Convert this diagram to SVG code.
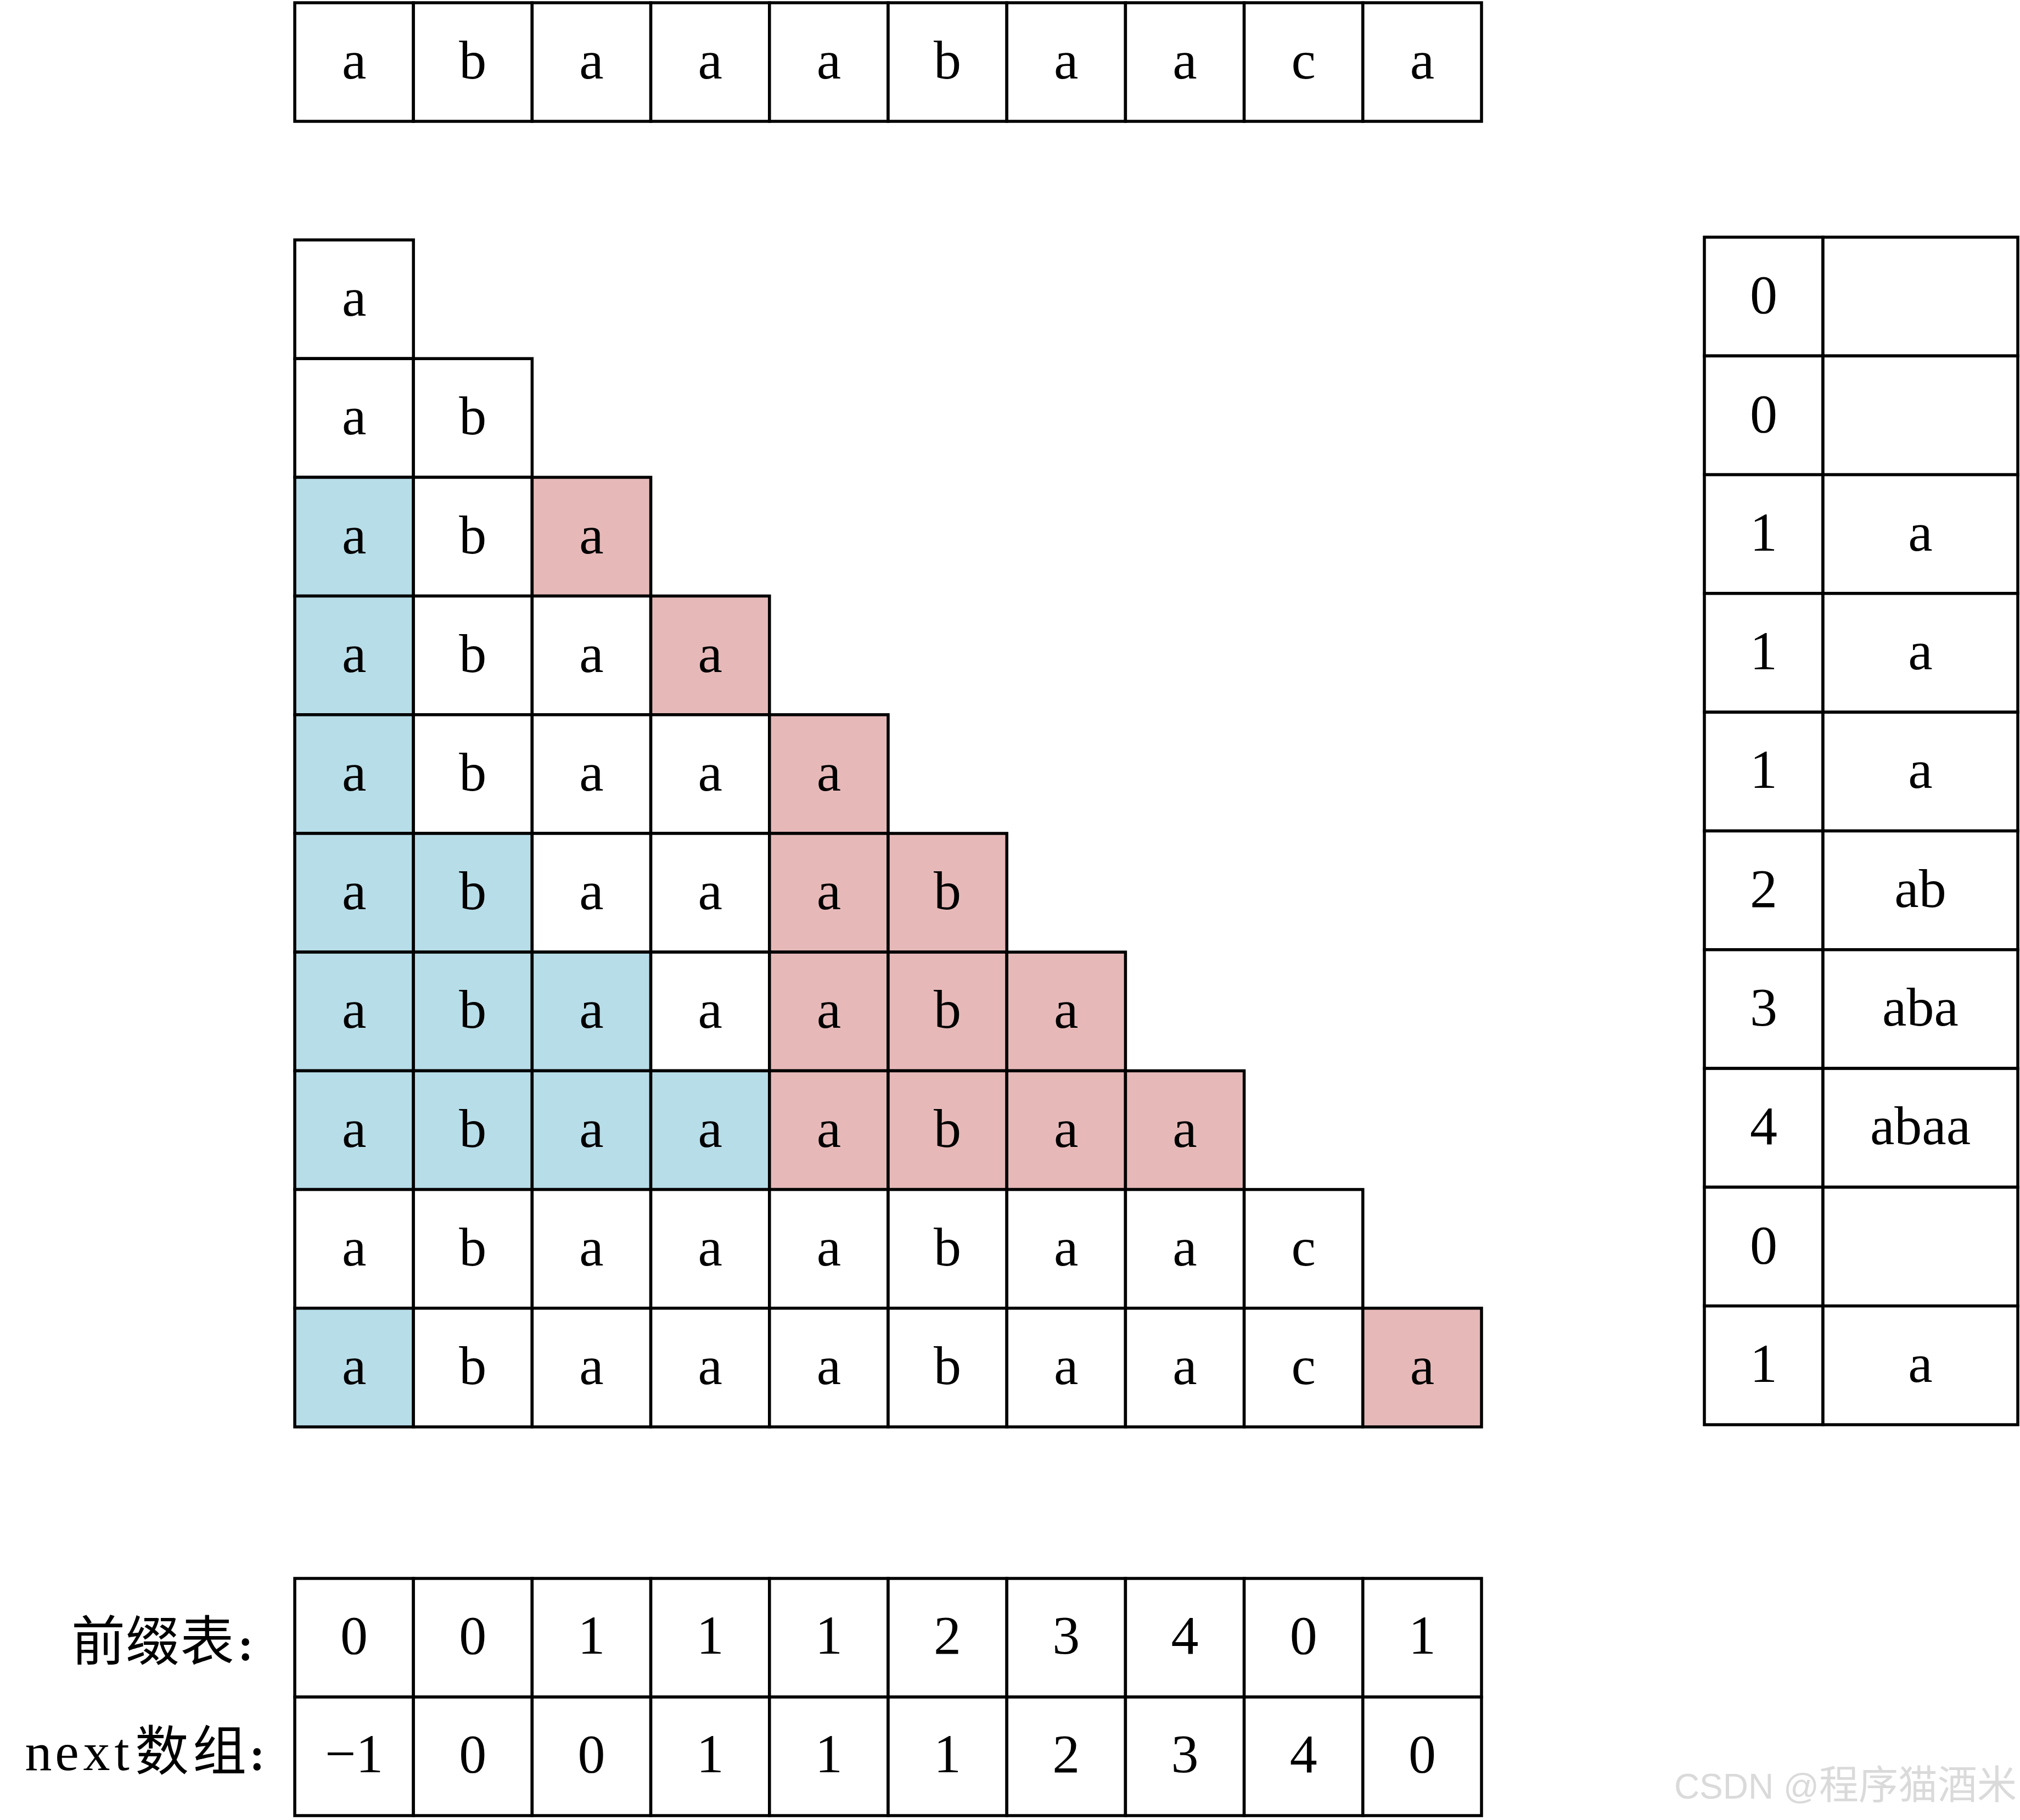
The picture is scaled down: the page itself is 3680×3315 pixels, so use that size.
<svg xmlns="http://www.w3.org/2000/svg" width="3680" height="3315" viewBox="0 0 3680 3315">
<style>
.c{fill:#ffffff;stroke:#000000;stroke-width:5.5;stroke-linejoin:miter}
.b{fill:#b7dde8}
.p{fill:#e6b9b8}
.t{font-family:"Liberation Serif","Times New Roman",serif;font-size:100px;text-anchor:middle;fill:#000000}
.lab{font-family:"Liberation Serif","Noto Sans CJK SC",serif;font-size:98px;text-anchor:middle;fill:#000000}
.col{font-family:"Liberation Serif",serif;font-weight:bold;font-size:84px;text-anchor:middle;fill:#000000}
.wm{font-family:"Liberation Sans","Noto Sans CJK SC",sans-serif;font-size:72px;fill:#dadada;text-anchor:end}
</style>
<rect width="3680" height="3315" fill="#ffffff"/>

<!-- top string row -->
<g id="top-row">
<g id="top-0"><rect class="c" x="537" y="5" width="216.2" height="216"/><text class="t" x="645.1" y="143">a</text></g>
<g id="top-1"><rect class="c" x="753.2" y="5" width="216.2" height="216"/><text class="t" x="861.3" y="143">b</text></g>
<g id="top-2"><rect class="c" x="969.4" y="5" width="216.2" height="216"/><text class="t" x="1077.5" y="143">a</text></g>
<g id="top-3"><rect class="c" x="1185.6" y="5" width="216.2" height="216"/><text class="t" x="1293.7" y="143">a</text></g>
<g id="top-4"><rect class="c" x="1401.8" y="5" width="216.2" height="216"/><text class="t" x="1509.9" y="143">a</text></g>
<g id="top-5"><rect class="c" x="1618" y="5" width="216.2" height="216"/><text class="t" x="1726.1" y="143">b</text></g>
<g id="top-6"><rect class="c" x="1834.2" y="5" width="216.2" height="216"/><text class="t" x="1942.3" y="143">a</text></g>
<g id="top-7"><rect class="c" x="2050.4" y="5" width="216.2" height="216"/><text class="t" x="2158.5" y="143">a</text></g>
<g id="top-8"><rect class="c" x="2266.6" y="5" width="216.2" height="216"/><text class="t" x="2374.7" y="143">c</text></g>
<g id="top-9"><rect class="c" x="2482.8" y="5" width="216.2" height="216"/><text class="t" x="2590.9" y="143">a</text></g>
</g>

<!-- triangle -->
<g id="triangle">
<g id="r0-0"><rect class="c" x="537" y="437" width="216.2" height="216.2"/><text class="t" x="645.1" y="575.1">a</text></g>

<g id="r1-0"><rect class="c" x="537" y="653.2" width="216.2" height="216.2"/><text class="t" x="645.1" y="791.3">a</text></g>
<g id="r1-1"><rect class="c" x="753.2" y="653.2" width="216.2" height="216.2"/><text class="t" x="861.3" y="791.3">b</text></g>

<g id="r2-0"><rect class="c b" x="537" y="869.4" width="216.2" height="216.2"/><text class="t" x="645.1" y="1007.5">a</text></g>
<g id="r2-1"><rect class="c" x="753.2" y="869.4" width="216.2" height="216.2"/><text class="t" x="861.3" y="1007.5">b</text></g>
<g id="r2-2"><rect class="c p" x="969.4" y="869.4" width="216.2" height="216.2"/><text class="t" x="1077.5" y="1007.5">a</text></g>

<g id="r3-0"><rect class="c b" x="537" y="1085.6" width="216.2" height="216.2"/><text class="t" x="645.1" y="1223.7">a</text></g>
<g id="r3-1"><rect class="c" x="753.2" y="1085.6" width="216.2" height="216.2"/><text class="t" x="861.3" y="1223.7">b</text></g>
<g id="r3-2"><rect class="c" x="969.4" y="1085.6" width="216.2" height="216.2"/><text class="t" x="1077.5" y="1223.7">a</text></g>
<g id="r3-3"><rect class="c p" x="1185.6" y="1085.6" width="216.2" height="216.2"/><text class="t" x="1293.7" y="1223.7">a</text></g>

<g id="r4-0"><rect class="c b" x="537" y="1301.8" width="216.2" height="216.2"/><text class="t" x="645.1" y="1439.9">a</text></g>
<g id="r4-1"><rect class="c" x="753.2" y="1301.8" width="216.2" height="216.2"/><text class="t" x="861.3" y="1439.9">b</text></g>
<g id="r4-2"><rect class="c" x="969.4" y="1301.8" width="216.2" height="216.2"/><text class="t" x="1077.5" y="1439.9">a</text></g>
<g id="r4-3"><rect class="c" x="1185.6" y="1301.8" width="216.2" height="216.2"/><text class="t" x="1293.7" y="1439.9">a</text></g>
<g id="r4-4"><rect class="c p" x="1401.8" y="1301.8" width="216.2" height="216.2"/><text class="t" x="1509.9" y="1439.9">a</text></g>

<g id="r5-0"><rect class="c b" x="537" y="1518" width="216.2" height="216.2"/><text class="t" x="645.1" y="1656.1">a</text></g>
<g id="r5-1"><rect class="c b" x="753.2" y="1518" width="216.2" height="216.2"/><text class="t" x="861.3" y="1656.1">b</text></g>
<g id="r5-2"><rect class="c" x="969.4" y="1518" width="216.2" height="216.2"/><text class="t" x="1077.5" y="1656.1">a</text></g>
<g id="r5-3"><rect class="c" x="1185.6" y="1518" width="216.2" height="216.2"/><text class="t" x="1293.7" y="1656.1">a</text></g>
<g id="r5-4"><rect class="c p" x="1401.8" y="1518" width="216.2" height="216.2"/><text class="t" x="1509.9" y="1656.1">a</text></g>
<g id="r5-5"><rect class="c p" x="1618" y="1518" width="216.2" height="216.2"/><text class="t" x="1726.1" y="1656.1">b</text></g>

<g id="r6-0"><rect class="c b" x="537" y="1734.2" width="216.2" height="216.2"/><text class="t" x="645.1" y="1872.3">a</text></g>
<g id="r6-1"><rect class="c b" x="753.2" y="1734.2" width="216.2" height="216.2"/><text class="t" x="861.3" y="1872.3">b</text></g>
<g id="r6-2"><rect class="c b" x="969.4" y="1734.2" width="216.2" height="216.2"/><text class="t" x="1077.5" y="1872.3">a</text></g>
<g id="r6-3"><rect class="c" x="1185.6" y="1734.2" width="216.2" height="216.2"/><text class="t" x="1293.7" y="1872.3">a</text></g>
<g id="r6-4"><rect class="c p" x="1401.8" y="1734.2" width="216.2" height="216.2"/><text class="t" x="1509.9" y="1872.3">a</text></g>
<g id="r6-5"><rect class="c p" x="1618" y="1734.2" width="216.2" height="216.2"/><text class="t" x="1726.1" y="1872.3">b</text></g>
<g id="r6-6"><rect class="c p" x="1834.2" y="1734.2" width="216.2" height="216.2"/><text class="t" x="1942.3" y="1872.3">a</text></g>

<g id="r7-0"><rect class="c b" x="537" y="1950.4" width="216.2" height="216.2"/><text class="t" x="645.1" y="2088.5">a</text></g>
<g id="r7-1"><rect class="c b" x="753.2" y="1950.4" width="216.2" height="216.2"/><text class="t" x="861.3" y="2088.5">b</text></g>
<g id="r7-2"><rect class="c b" x="969.4" y="1950.4" width="216.2" height="216.2"/><text class="t" x="1077.5" y="2088.5">a</text></g>
<g id="r7-3"><rect class="c b" x="1185.6" y="1950.4" width="216.2" height="216.2"/><text class="t" x="1293.7" y="2088.5">a</text></g>
<g id="r7-4"><rect class="c p" x="1401.8" y="1950.4" width="216.2" height="216.2"/><text class="t" x="1509.9" y="2088.5">a</text></g>
<g id="r7-5"><rect class="c p" x="1618" y="1950.4" width="216.2" height="216.2"/><text class="t" x="1726.1" y="2088.5">b</text></g>
<g id="r7-6"><rect class="c p" x="1834.2" y="1950.4" width="216.2" height="216.2"/><text class="t" x="1942.3" y="2088.5">a</text></g>
<g id="r7-7"><rect class="c p" x="2050.4" y="1950.4" width="216.2" height="216.2"/><text class="t" x="2158.5" y="2088.5">a</text></g>

<g id="r8-0"><rect class="c" x="537" y="2166.6" width="216.2" height="216.2"/><text class="t" x="645.1" y="2304.7">a</text></g>
<g id="r8-1"><rect class="c" x="753.2" y="2166.6" width="216.2" height="216.2"/><text class="t" x="861.3" y="2304.7">b</text></g>
<g id="r8-2"><rect class="c" x="969.4" y="2166.6" width="216.2" height="216.2"/><text class="t" x="1077.5" y="2304.7">a</text></g>
<g id="r8-3"><rect class="c" x="1185.6" y="2166.6" width="216.2" height="216.2"/><text class="t" x="1293.7" y="2304.7">a</text></g>
<g id="r8-4"><rect class="c" x="1401.8" y="2166.6" width="216.2" height="216.2"/><text class="t" x="1509.9" y="2304.7">a</text></g>
<g id="r8-5"><rect class="c" x="1618" y="2166.6" width="216.2" height="216.2"/><text class="t" x="1726.1" y="2304.7">b</text></g>
<g id="r8-6"><rect class="c" x="1834.2" y="2166.6" width="216.2" height="216.2"/><text class="t" x="1942.3" y="2304.7">a</text></g>
<g id="r8-7"><rect class="c" x="2050.4" y="2166.6" width="216.2" height="216.2"/><text class="t" x="2158.5" y="2304.7">a</text></g>
<g id="r8-8"><rect class="c" x="2266.6" y="2166.6" width="216.2" height="216.2"/><text class="t" x="2374.7" y="2304.7">c</text></g>

<g id="r9-0"><rect class="c b" x="537" y="2382.8" width="216.2" height="216.2"/><text class="t" x="645.1" y="2520.9">a</text></g>
<g id="r9-1"><rect class="c" x="753.2" y="2382.8" width="216.2" height="216.2"/><text class="t" x="861.3" y="2520.9">b</text></g>
<g id="r9-2"><rect class="c" x="969.4" y="2382.8" width="216.2" height="216.2"/><text class="t" x="1077.5" y="2520.9">a</text></g>
<g id="r9-3"><rect class="c" x="1185.6" y="2382.8" width="216.2" height="216.2"/><text class="t" x="1293.7" y="2520.9">a</text></g>
<g id="r9-4"><rect class="c" x="1401.8" y="2382.8" width="216.2" height="216.2"/><text class="t" x="1509.9" y="2520.9">a</text></g>
<g id="r9-5"><rect class="c" x="1618" y="2382.8" width="216.2" height="216.2"/><text class="t" x="1726.1" y="2520.9">b</text></g>
<g id="r9-6"><rect class="c" x="1834.2" y="2382.8" width="216.2" height="216.2"/><text class="t" x="1942.3" y="2520.9">a</text></g>
<g id="r9-7"><rect class="c" x="2050.4" y="2382.8" width="216.2" height="216.2"/><text class="t" x="2158.5" y="2520.9">a</text></g>
<g id="r9-8"><rect class="c" x="2266.6" y="2382.8" width="216.2" height="216.2"/><text class="t" x="2374.7" y="2520.9">c</text></g>
<g id="r9-9"><rect class="c p" x="2482.8" y="2382.8" width="216.2" height="216.2"/><text class="t" x="2590.9" y="2520.9">a</text></g>
</g>

<!-- right table -->
<g id="prefix-table">
<g id="pt-0"><rect class="c" x="3105" y="432" width="216" height="216.3"/><rect class="c" x="3321" y="432" width="355" height="216.3"/><text class="t" x="3213" y="570.2">0</text></g>
<g id="pt-1"><rect class="c" x="3105" y="648.3" width="216" height="216.3"/><rect class="c" x="3321" y="648.3" width="355" height="216.3"/><text class="t" x="3213" y="786.5">0</text></g>
<g id="pt-2"><rect class="c" x="3105" y="864.6" width="216" height="216.3"/><rect class="c" x="3321" y="864.6" width="355" height="216.3"/><text class="t" x="3213" y="1002.8">1</text><text class="t" x="3498.5" y="1002.8">a</text></g>
<g id="pt-3"><rect class="c" x="3105" y="1080.9" width="216" height="216.3"/><rect class="c" x="3321" y="1080.9" width="355" height="216.3"/><text class="t" x="3213" y="1219.1">1</text><text class="t" x="3498.5" y="1219.1">a</text></g>
<g id="pt-4"><rect class="c" x="3105" y="1297.2" width="216" height="216.3"/><rect class="c" x="3321" y="1297.2" width="355" height="216.3"/><text class="t" x="3213" y="1435.4">1</text><text class="t" x="3498.5" y="1435.4">a</text></g>
<g id="pt-5"><rect class="c" x="3105" y="1513.5" width="216" height="216.3"/><rect class="c" x="3321" y="1513.5" width="355" height="216.3"/><text class="t" x="3213" y="1651.7">2</text><text class="t" x="3498.5" y="1651.7">ab</text></g>
<g id="pt-6"><rect class="c" x="3105" y="1729.8" width="216" height="216.3"/><rect class="c" x="3321" y="1729.8" width="355" height="216.3"/><text class="t" x="3213" y="1868">3</text><text class="t" x="3498.5" y="1868">aba</text></g>
<g id="pt-7"><rect class="c" x="3105" y="1946.1" width="216" height="216.3"/><rect class="c" x="3321" y="1946.1" width="355" height="216.3"/><text class="t" x="3213" y="2084.3">4</text><text class="t" x="3498.5" y="2084.3">abaa</text></g>
<g id="pt-8"><rect class="c" x="3105" y="2162.4" width="216" height="216.3"/><rect class="c" x="3321" y="2162.4" width="355" height="216.3"/><text class="t" x="3213" y="2300.6">0</text></g>
<g id="pt-9"><rect class="c" x="3105" y="2378.7" width="216" height="216.3"/><rect class="c" x="3321" y="2378.7" width="355" height="216.3"/><text class="t" x="3213" y="2516.9">1</text><text class="t" x="3498.5" y="2516.9">a</text></g>
</g>

<!-- labels -->
<g id="label-prefix"><text class="lab" x="179 278 377.5" y="3024">前缀表<tspan class="col" x="447.5" y="3024">:</tspan></text></g>
<g id="label-next"><text class="lab" x="70 122 176 222 295 400" y="3224">next数组<tspan class="col" x="468.5" y="3224">:</tspan></text></g>

<!-- prefix row -->
<g id="prefix-row">
<g id="pf-0"><rect class="c" x="537" y="2875" width="216.2" height="216"/><text class="t" x="645.1" y="3012">0</text></g>
<g id="pf-1"><rect class="c" x="753.2" y="2875" width="216.2" height="216"/><text class="t" x="861.3" y="3012">0</text></g>
<g id="pf-2"><rect class="c" x="969.4" y="2875" width="216.2" height="216"/><text class="t" x="1077.5" y="3012">1</text></g>
<g id="pf-3"><rect class="c" x="1185.6" y="2875" width="216.2" height="216"/><text class="t" x="1293.7" y="3012">1</text></g>
<g id="pf-4"><rect class="c" x="1401.8" y="2875" width="216.2" height="216"/><text class="t" x="1509.9" y="3012">1</text></g>
<g id="pf-5"><rect class="c" x="1618" y="2875" width="216.2" height="216"/><text class="t" x="1726.1" y="3012">2</text></g>
<g id="pf-6"><rect class="c" x="1834.2" y="2875" width="216.2" height="216"/><text class="t" x="1942.3" y="3012">3</text></g>
<g id="pf-7"><rect class="c" x="2050.4" y="2875" width="216.2" height="216"/><text class="t" x="2158.5" y="3012">4</text></g>
<g id="pf-8"><rect class="c" x="2266.6" y="2875" width="216.2" height="216"/><text class="t" x="2374.7" y="3012">0</text></g>
<g id="pf-9"><rect class="c" x="2482.8" y="2875" width="216.2" height="216"/><text class="t" x="2590.9" y="3012">1</text></g>
</g>

<!-- next row -->
<g id="next-row">
<g id="nx-0"><rect class="c" x="537" y="3091" width="216.2" height="216"/><text class="t" x="645.1" y="3228">−1</text></g>
<g id="nx-1"><rect class="c" x="753.2" y="3091" width="216.2" height="216"/><text class="t" x="861.3" y="3228">0</text></g>
<g id="nx-2"><rect class="c" x="969.4" y="3091" width="216.2" height="216"/><text class="t" x="1077.5" y="3228">0</text></g>
<g id="nx-3"><rect class="c" x="1185.6" y="3091" width="216.2" height="216"/><text class="t" x="1293.7" y="3228">1</text></g>
<g id="nx-4"><rect class="c" x="1401.8" y="3091" width="216.2" height="216"/><text class="t" x="1509.9" y="3228">1</text></g>
<g id="nx-5"><rect class="c" x="1618" y="3091" width="216.2" height="216"/><text class="t" x="1726.1" y="3228">1</text></g>
<g id="nx-6"><rect class="c" x="1834.2" y="3091" width="216.2" height="216"/><text class="t" x="1942.3" y="3228">2</text></g>
<g id="nx-7"><rect class="c" x="2050.4" y="3091" width="216.2" height="216"/><text class="t" x="2158.5" y="3228">3</text></g>
<g id="nx-8"><rect class="c" x="2266.6" y="3091" width="216.2" height="216"/><text class="t" x="2374.7" y="3228">4</text></g>
<g id="nx-9"><rect class="c" x="2482.8" y="3091" width="216.2" height="216"/><text class="t" x="2590.9" y="3228">0</text></g>
</g>

<g id="connectors"></g>

<g id="watermark"><text class="wm" x="3674" y="3276"><tspan font-size="64">CSDN @</tspan>程序猫酒米</text></g>
</svg>
